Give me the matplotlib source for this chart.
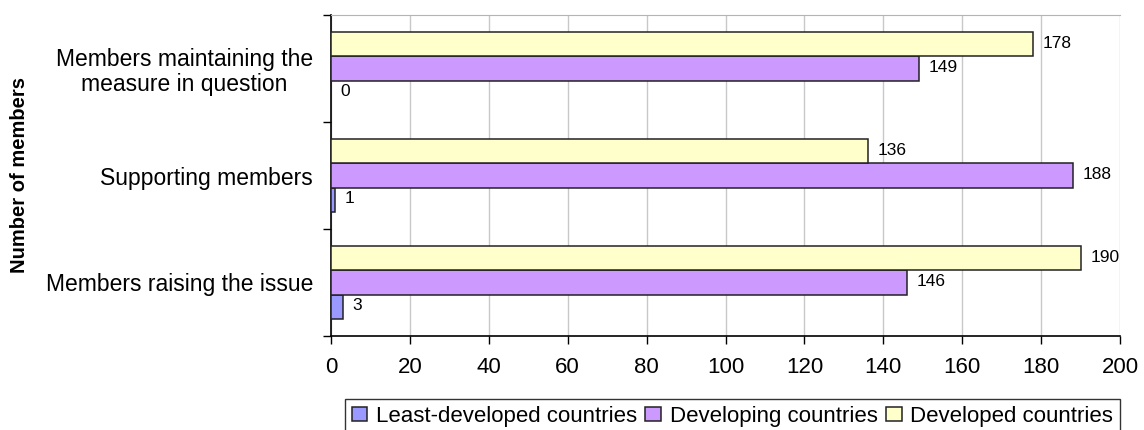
import numpy as np
import matplotlib
matplotlib.use("Agg")
import matplotlib.pyplot as plt

plt.rcParams['font.family'] = ['Liberation Sans', 'DejaVu Sans']

# Member counts per category (bottom to top on the chart)
categories = ['Members raising the issue',
              'Supporting members',
              'Members maintaining the\nmeasure in question']
least_developed = [3, 1, 0]
developing = [146, 188, 149]
developed = [190, 136, 178]

series_names = ['Least-developed countries', 'Developing countries', 'Developed countries']
series_colors = ['#9999FF', '#CC99FF', '#FFFFCC']
x_ticks = [0, 20, 40, 60, 80, 100, 120, 140, 160, 180, 200]


def main():
    fig = plt.figure(figsize=(11.44, 4.30), dpi=100)
    ax = fig.add_axes([331 / 1144, 1 - 336 / 430, (1120 - 331) / 1144, (336 - 15) / 430])

    y = np.arange(len(categories))
    h = 0.225
    series = [least_developed, developing, developed]
    offsets = [-h, 0, h]
    for vals, name, col, off in zip(series, series_names, series_colors, offsets):
        bars = ax.barh(y + off, vals, height=h, color=col, edgecolor='#222222',
                       linewidth=1.1, label=name, zorder=3)
        for b, v in zip(bars, vals):
            ax.annotate(str(v), (b.get_width(), b.get_y() + b.get_height() / 2),
                        xytext=(7, 1), textcoords='offset points',
                        ha='left', va='center', fontsize=12.5, zorder=4)

    ax.set_xlim(0, 200)
    ax.set_ylim(-0.5, len(categories) - 0.5)
    ax.set_xticks(x_ticks)
    ax.set_xticklabels([str(t) for t in x_ticks], fontsize=16)
    ax.tick_params(axis='x', direction='out', length=6, width=1, pad=9)

    # category boundaries get ticks, names sit between them
    ax.set_yticks(np.arange(len(categories) + 1) - 0.5)
    ax.set_yticklabels([])
    ax.tick_params(axis='y', which='major', direction='out', length=6, width=1)
    ax.set_yticks(y, minor=True)
    ax.set_yticklabels(categories, minor=True, fontsize=16.5, multialignment='center',
                       linespacing=1.1)
    ax.tick_params(axis='y', which='minor', length=0, pad=13)

    ax.grid(axis='x', color='#C8C8C8', linewidth=1, zorder=0)
    ax.spines['right'].set_visible(False)
    ax.spines['top'].set_color('#B4B4B4')
    ax.spines['left'].set_linewidth(1.2)
    ax.spines['bottom'].set_linewidth(1.2)

    fig.text(20 / 1144, 1 - 175 / 430, 'Number of members', rotation=90,
             ha='center', va='center', fontsize=14.5, fontweight='bold')

    leg = fig.legend(loc='upper left', ncol=3, mode='expand',
                     bbox_to_anchor=(345 / 1144, 0, 775 / 1144, 1 - 399 / 430),
                     fontsize=16, frameon=True, fancybox=False, edgecolor='black',
                     handlelength=0.7, handleheight=0.6, handletextpad=0.4,
                     borderpad=0.3, columnspacing=0.4, borderaxespad=0)
    leg.get_frame().set_linewidth(1)

    fig.savefig('out.png', dpi=100)


if __name__ == "__main__":
    main()
